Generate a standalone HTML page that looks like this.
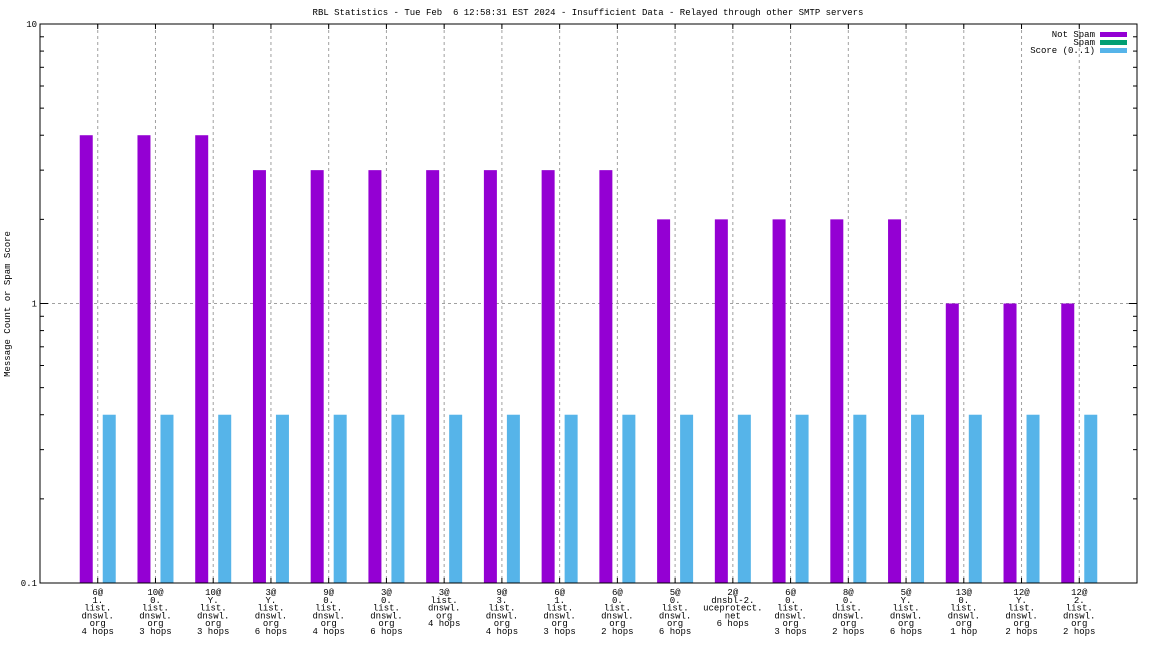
<!DOCTYPE html>
<html><head><meta charset="utf-8"><style>
html,body{margin:0;padding:0;background:#fff;}
svg text{font-family:"Liberation Mono","DejaVu Sans Mono",monospace;font-size:9px;fill:#000;}
</style></head><body>
<svg id="chart" width="1152" height="648" viewBox="0 0 1152 648" xmlns="http://www.w3.org/2000/svg">
<rect width="1152" height="648" fill="#fff"/>
<text x="588" y="15" text-anchor="middle" style="white-space:pre" xml:space="preserve">RBL Statistics - Tue Feb  6 12:58:31 EST 2024 - Insufficient Data - Relayed through other SMTP servers</text>
<text transform="translate(10,304) rotate(-90)" text-anchor="middle">Message Count or Spam Score</text>
<g id="grid"></g>
<g id="bars"></g>
<g id="axes"></g>
<g id="xlabels"></g>
<g>
<text x="1095" y="37" text-anchor="end">Not Spam</text>
<rect x="1100" y="32" width="27" height="5" fill="#9400d3"/>
<text x="1095" y="45" text-anchor="end">Spam</text>
<rect x="1100" y="40" width="27" height="5" fill="#009e73"/>
<text x="1095" y="53" text-anchor="end">Score (0..1)</text>
<rect x="1100" y="48" width="27" height="5" fill="#56b4e9"/>
</g>
</svg>
<script>
const categories = [
 ["6@","1.","list.","dnswl.","org","4 hops"],
 ["10@","0.","list.","dnswl.","org","3 hops"],
 ["10@","Y.","list.","dnswl.","org","3 hops"],
 ["3@","Y.","list.","dnswl.","org","6 hops"],
 ["9@","0.","list.","dnswl.","org","4 hops"],
 ["3@","0.","list.","dnswl.","org","6 hops"],
 ["3@","list.","dnswl.","org","4 hops"],
 ["9@","3.","list.","dnswl.","org","4 hops"],
 ["6@","1.","list.","dnswl.","org","3 hops"],
 ["6@","0.","list.","dnswl.","org","2 hops"],
 ["5@","0.","list.","dnswl.","org","6 hops"],
 ["2@","dnsbl-2.","uceprotect.","net","6 hops"],
 ["6@","0.","list.","dnswl.","org","3 hops"],
 ["8@","0.","list.","dnswl.","org","2 hops"],
 ["5@","Y.","list.","dnswl.","org","6 hops"],
 ["13@","0.","list.","dnswl.","org","1 hop"],
 ["12@","Y.","list.","dnswl.","org","2 hops"],
 ["12@","2.","list.","dnswl.","org","2 hops"]
];
const notSpam = [4,4,4,3,3,3,3,3,3,3,2,2,2,2,2,1,1,1];
const spam = [0,0,0,0,0,0,0,0,0,0,0,0,0,0,0,0,0,0];
const score = [0.4,0.4,0.4,0.4,0.4,0.4,0.4,0.4,0.4,0.4,0.4,0.4,0.4,0.4,0.4,0.4,0.4,0.4];
const yTicks = [0.1,1,10];
const yTickLabels = ["0.1","1","10"];

const L=40,R=1137,T=24,B=583;
const NS="http://www.w3.org/2000/svg";
const xs=i=>L+(R-L)*(i+1)/(categories.length+1);
const ys=v=>B-(Math.log10(v)-(-1))/2*(B-T);
function mk(tag,attrs,parent){const e=document.createElementNS(NS,tag);for(const k in attrs)e.setAttribute(k,attrs[k]);parent.appendChild(e);return e;}
const grid=document.getElementById('grid'),bars=document.getElementById('bars'),axes=document.getElementById('axes'),xl=document.getElementById('xlabels');
categories.forEach((c,i)=>{
 const g=mk('line',{x1:xs(i),x2:xs(i),y1:T,y2:B,stroke:'#a0a0a0','stroke-dasharray':'3,3','stroke-width':1},grid);
 
 
});
const hg=mk('line',{x1:L,x2:R,y1:ys(1),y2:ys(1),stroke:'#a0a0a0','stroke-dasharray':'3,3'},grid);


const bw=13;
categories.forEach((c,i)=>{
 const cx=xs(i);
 if(notSpam[i]>0){const r=mk('rect',{x:cx-18,y:ys(notSpam[i]),width:bw,height:B-ys(notSpam[i]),fill:'#9400d3'},bars);
 
 }
 if(spam[i]>0){const r=mk('rect',{x:cx-6.5,y:ys(spam[i]),width:bw,height:B-ys(spam[i]),fill:'#009e73'},bars);
 
 }
 if(score[i]>0){const r=mk('rect',{x:cx+5,y:ys(score[i]),width:bw,height:B-ys(score[i]),fill:'#56b4e9'},bars);
 
 }
 const t=mk('text',{x:cx,y:595,'text-anchor':'middle'},xl);
 
 
 c.forEach((s,k)=>{const ts=mk('tspan',{x:cx,dy:k?7.8:0},t);ts.textContent=s;});
 mk('line',{x1:cx,x2:cx,y1:T,y2:T+5,stroke:'#000'},axes);
 mk('line',{x1:cx,x2:cx,y1:B,y2:B-5,stroke:'#000'},axes);
});
const fr=mk('rect',{x:L,y:T,width:R-L,height:B-T,fill:'none',stroke:'#000','stroke-width':1},axes);


yTicks.forEach((v,i)=>{
 const y=ys(v);
 mk('line',{x1:L,x2:L+8,y1:y,y2:y,stroke:'#000'},axes);
 mk('line',{x1:R,x2:R-8,y1:y,y2:y,stroke:'#000'},axes);
 const t=mk('text',{x:L-3,y:y+3,'text-anchor':'end'},axes);
 
 
 t.textContent=yTickLabels[i];
 if(i<yTicks.length-1){for(let m=2;m<=9;m++){const yy=ys(v*m);
  mk('line',{x1:L,x2:L+4,y1:yy,y2:yy,stroke:'#000'},axes);
  mk('line',{x1:R,x2:R-4,y1:yy,y2:yy,stroke:'#000'},axes);}}
});
</script>
</body></html>
